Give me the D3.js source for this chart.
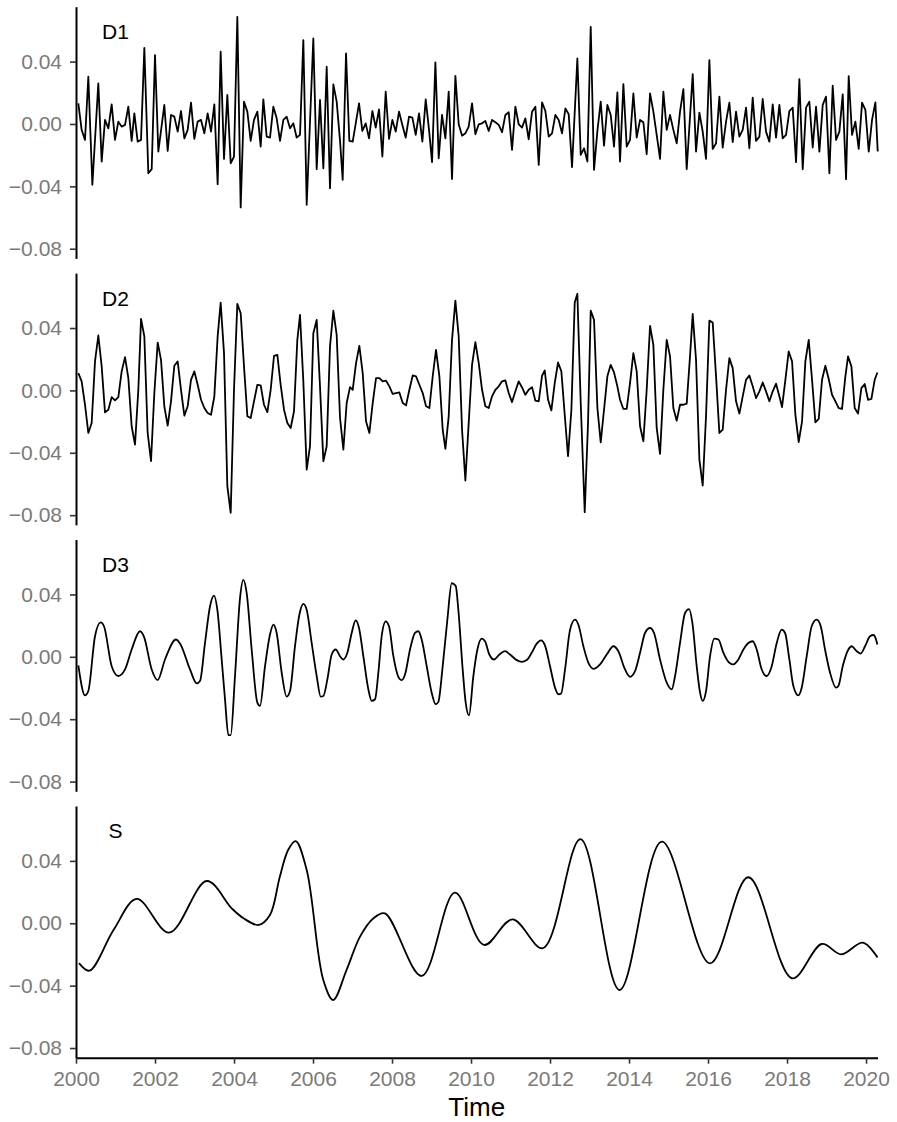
<!DOCTYPE html>
<html>
<head>
<meta charset="utf-8">
<script src="https://cdn.jsdelivr.net/npm/d3@7"></script>
<style>
  body { margin: 0; background: #ffffff; }
  svg { display: block; }
</style>
</head>
<body>
<svg id="chart" width="897" height="1122"></svg>
<script>
// ---------------- data (years since 2000, values) ----------------
const baseYear = 2000;
const panelNames = ["D1", "D2", "D3", "S"];
const xTickValues = [2000, 2002, 2004, 2006, 2008, 2010, 2012, 2014, 2016, 2018, 2020];
const yTickValues = [0.04, 0.00, -0.04, -0.08];
const yLimits = [-0.0862, 0.0752];
const xLimits = [2000, 2020.29];

const d1Years = [
0.059,0.143,0.228,0.312,0.414,0.565,0.650,0.734,0.819,0.903,0.987,1.072,1.156,1.241,1.325,1.409,1.477,1.561,1.646,1.730,1.831,1.916,2.000,2.084,2.236,2.321,2.405,2.489,2.574,2.658,2.743,2.827,2.911,2.996,3.080,3.165,3.249,3.333,3.418,3.502,3.586,3.662,3.747,3.831,3.916,4.000,4.084,4.169,4.253,4.338,4.422,4.506,4.591,4.675,4.743,4.827,4.911,4.996,5.080,5.165,5.249,5.333,5.418,5.502,5.586,5.671,5.755,5.840,6.008,6.093,6.177,6.262,6.346,6.430,6.515,6.599,6.684,6.751,
6.836,6.920,7.005,7.089,7.165,7.249,7.334,7.418,7.503,7.587,7.671,7.756,7.840,7.925,8.009,8.093,8.178,8.262,8.346,8.431,8.515,8.600,8.684,8.768,8.853,8.937,9.013,9.098,9.182,9.266,9.351,9.435,9.519,9.604,9.688,9.773,9.857,9.941,10.026,10.110,10.195,10.279,10.363,10.448,10.532,10.617,10.701,10.785,10.870,10.954,11.038,11.123,11.207,11.292,11.376,11.460,11.545,11.629,11.714,11.798,11.882,11.967,12.051,12.135,12.220,12.304,12.389,12.473,12.557,12.692,12.777,12.861,12.946,13.030,13.114,13.199,13.283,13.367,13.452,13.536,13.620,13.705,13.772,
13.857,13.941,14.025,14.110,14.194,14.279,14.363,14.447,14.532,14.616,14.700,14.785,14.869,14.954,15.038,15.122,15.207,15.291,15.376,15.460,15.612,15.696,15.781,15.865,15.949,16.034,16.118,16.203,16.287,16.371,16.456,16.540,16.624,16.709,16.793,16.878,16.962,17.046,17.131,17.215,17.300,17.384,17.468,17.553,17.637,17.722,17.806,17.890,17.975,18.059,18.143,18.228,18.312,18.397,18.481,18.565,18.650,18.734,18.819,18.903,18.987,19.072,19.156,19.241,19.325,19.409,19.494,19.561,19.646,19.730,19.814,19.899,19.983,20.068,20.152,20.236,20.295
];
const d1Values = [
0.0132,-0.0038,-0.0102,0.0303,-0.0390,0.0260,-0.0241,0.0026,-0.0028,0.0126,-0.0102,0.0015,-0.0017,-0.0006,0.0111,-0.0109,0.0068,-0.0113,-0.0102,0.0488,-0.0316,-0.0290,0.0442,-0.0177,0.0122,-0.0173,0.0058,0.0047,-0.0049,0.0083,-0.0092,-0.0038,0.0137,-0.0096,0.0015,0.0026,-0.0060,0.0068,-0.0049,0.0126,-0.0386,0.0463,-0.0224,0.0186,-0.0252,-0.0209,0.0687,-0.0535,0.0143,0.0079,-0.0109,0.0026,0.0079,-0.0145,0.0158,-0.0081,-0.0087,0.0111,0.0036,-0.0109,0.0026,0.0047,-0.0028,0.0004,-0.0087,-0.0070,0.0538,-0.0518,0.0548,-0.0290,0.0154,-0.0284,0.0367,-0.0412,0.0254,0.0143,-0.0109,-0.0358,
0.0452,-0.0109,-0.0113,0.0015,0.0132,-0.0045,0.0004,-0.0092,0.0083,-0.0023,0.0094,-0.0209,0.0207,-0.0096,0.0026,-0.0049,0.0079,-0.0006,-0.0087,0.0047,0.0041,-0.0070,0.0068,-0.0113,0.0158,-0.0038,-0.0245,0.0395,-0.0220,0.0058,-0.0092,0.0207,-0.0352,0.0309,-0.0002,-0.0075,-0.0060,-0.0017,0.0132,-0.0066,-0.0002,0.0004,0.0019,-0.0045,0.0026,0.0011,-0.0006,-0.0053,0.0058,0.0075,-0.0166,0.0111,-0.0002,-0.0023,0.0036,-0.0098,0.0079,0.0111,-0.0262,0.0139,0.0083,-0.0081,-0.0060,0.0058,0.0026,-0.0060,0.0100,0.0062,-0.0277,0.0420,-0.0198,-0.0156,-0.0241,0.0623,-0.0294,-0.0045,0.0143,-0.0139,0.0122,0.0058,-0.0145,0.0203,-0.0241,
0.0256,-0.0145,-0.0102,0.0196,-0.0087,0.0026,0.0011,-0.0194,0.0196,0.0079,-0.0070,-0.0224,0.0207,-0.0038,0.0058,-0.0038,-0.0124,0.0079,0.0224,-0.0290,0.0320,-0.0177,0.0073,-0.0049,-0.0224,0.0410,-0.0160,-0.0124,0.0175,-0.0151,0.0015,0.0137,-0.0117,0.0079,-0.0081,-0.0038,0.0105,-0.0156,0.0169,-0.0109,-0.0081,0.0160,-0.0049,-0.0113,0.0126,-0.0087,0.0122,-0.0092,-0.0070,0.0083,0.0105,-0.0245,0.0288,-0.0290,0.0105,0.0143,-0.0151,0.0111,-0.0177,0.0122,0.0175,-0.0316,0.0245,-0.0102,-0.0049,0.0190,-0.0354,0.0307,-0.0070,0.0015,-0.0160,0.0137,0.0090,-0.0177,0.0026,0.0139,-0.0177
];

const d2Years = [
0.059,0.143,0.228,0.312,0.397,0.481,0.565,0.650,0.734,0.819,0.903,0.987,1.072,1.156,1.241,1.325,1.409,1.494,1.578,1.646,1.730,1.814,1.899,1.983,2.068,2.152,2.236,2.321,2.405,2.489,2.574,2.658,2.743,2.827,2.911,2.996,3.080,3.165,3.249,3.333,3.418,3.502,3.586,3.662,3.747,3.831,3.916,4.000,4.084,4.169,4.253,4.338,4.422,4.506,4.591,4.675,4.759,4.844,4.928,5.013,5.097,5.181,5.266,5.350,5.435,5.519,5.603,5.671,5.755,5.840,5.924,6.008,6.093,6.177,6.262,6.346,6.430,6.515,6.599,6.684,6.768,6.852,6.937,
7.005,7.089,7.173,7.258,7.342,7.427,7.511,7.595,7.680,7.764,7.849,7.933,8.017,8.102,8.186,8.271,8.355,8.439,8.524,8.608,8.692,8.777,8.861,8.946,9.030,9.114,9.199,9.283,9.351,9.435,9.519,9.604,9.688,9.773,9.857,9.941,10.026,10.110,10.195,10.279,10.363,10.448,10.532,10.617,10.701,10.785,10.870,10.954,11.038,11.123,11.207,11.292,11.376,11.460,11.545,11.629,11.714,11.798,11.866,11.950,12.034,12.119,12.203,12.287,12.372,12.456,12.541,12.625,12.692,12.777,12.878,12.962,13.030,13.114,13.199,13.283,13.367,13.452,13.536,13.620,13.705,13.772,
13.857,13.941,14.025,14.110,14.194,14.279,14.363,14.447,14.532,14.616,14.700,14.785,14.869,14.954,15.038,15.122,15.207,15.291,15.376,15.460,15.544,15.612,15.696,15.781,15.865,15.949,16.034,16.118,16.203,16.287,16.371,16.456,16.540,16.624,16.709,16.793,16.878,16.962,17.046,17.131,17.215,17.300,17.384,17.468,17.553,17.637,17.722,17.806,17.873,17.958,18.042,18.127,18.211,18.295,18.380,18.464,18.549,18.633,18.717,18.802,18.886,18.970,19.055,19.139,19.224,19.308,19.392,19.477,19.544,19.629,19.713,19.797,19.882,19.966,20.051,20.135,20.219,20.287
];
const d2Values = [
0.0111,0.0058,-0.0092,-0.0273,-0.0209,0.0186,0.0352,0.0154,-0.0141,-0.0124,-0.0043,-0.0064,-0.0043,0.0122,0.0213,0.0079,-0.0230,-0.0348,0.0004,0.0459,0.0346,-0.0273,-0.0454,-0.0017,0.0307,0.0196,-0.0102,-0.0226,-0.0070,0.0158,0.0186,0.0004,-0.0162,-0.0102,0.0068,0.0122,0.0036,-0.0060,-0.0113,-0.0145,-0.0156,-0.0038,0.0346,0.0563,0.0239,-0.0614,-0.0785,0.0004,0.0555,0.0495,0.0154,-0.0166,-0.0177,-0.0070,0.0036,0.0032,-0.0092,-0.0139,0.0004,0.0222,0.0228,0.0036,-0.0124,-0.0209,-0.0241,-0.0134,0.0324,0.0484,0.0058,-0.0508,-0.0358,0.0367,0.0452,0.0026,-0.0454,-0.0358,0.0282,0.0512,0.0356,-0.0177,-0.0380,-0.0081,0.0021,
0.0004,0.0175,0.0286,0.0111,-0.0198,-0.0273,-0.0081,0.0079,0.0079,0.0058,0.0062,0.0026,-0.0023,-0.0017,-0.0013,-0.0081,-0.0096,0.0004,0.0096,0.0090,0.0036,-0.0017,-0.0102,-0.0113,0.0090,0.0260,0.0090,-0.0252,-0.0375,-0.0166,0.0324,0.0576,0.0346,-0.0252,-0.0578,-0.0209,0.0164,0.0309,0.0175,0.0004,-0.0102,-0.0113,-0.0038,0.0004,0.0026,0.0058,0.0064,-0.0017,-0.0075,-0.0006,0.0058,0.0019,-0.0028,0.0004,0.0021,-0.0066,-0.0070,0.0094,0.0128,-0.0060,-0.0128,0.0047,0.0179,0.0122,-0.0156,-0.0422,-0.0124,0.0563,0.0619,-0.0081,-0.0781,-0.0209,0.0512,0.0452,-0.0113,-0.0333,-0.0124,0.0090,0.0164,0.0115,0.0026,-0.0060,
-0.0119,-0.0119,0.0047,0.0239,0.0122,-0.0230,-0.0326,0.0004,0.0414,0.0292,-0.0241,-0.0407,0.0004,0.0324,0.0218,-0.0113,-0.0194,-0.0092,-0.0092,-0.0085,0.0218,0.0491,0.0196,-0.0444,-0.0610,-0.0166,0.0448,0.0435,0.0090,-0.0273,-0.0252,0.0004,0.0207,0.0143,-0.0070,-0.0149,-0.0038,0.0068,0.0096,0.0026,-0.0049,-0.0006,0.0051,-0.0006,-0.0070,-0.0006,0.0043,-0.0038,-0.0107,0.0068,0.0250,0.0186,-0.0156,-0.0331,-0.0198,0.0186,0.0324,0.0068,-0.0205,-0.0183,0.0068,0.0158,0.0073,-0.0028,-0.0070,-0.0113,-0.0119,0.0090,0.0218,0.0154,-0.0113,-0.0149,0.0015,0.0041,-0.0060,-0.0055,0.0068,0.0115
];

const d3Years = [
0.059,0.228,0.312,0.481,0.624,0.709,0.903,1.072,1.241,1.409,1.620,1.722,1.916,2.068,2.253,2.532,2.633,2.886,3.055,3.139,3.266,3.392,3.494,3.578,3.688,3.772,3.857,3.916,4.025,4.152,4.236,4.321,4.447,4.591,4.658,4.785,4.911,4.996,5.080,5.207,5.333,5.418,5.544,5.654,5.755,5.840,5.966,6.093,6.194,6.262,6.363,6.473,6.574,6.684,6.768,6.869,6.979,7.080,7.165,7.274,7.401,7.485,7.570,7.654,7.738,7.840,7.924,8.034,8.160,8.245,8.329,8.456,8.582,8.667,8.751,8.878,9.004,9.106,9.173,9.283,9.401,9.511,9.612,9.679,9.789,9.865,9.949,
10.059,10.161,10.270,10.355,10.464,10.583,10.718,10.861,10.988,11.157,11.283,11.409,11.536,11.663,11.772,11.874,12.000,12.127,12.211,12.279,12.380,12.507,12.633,12.718,12.844,12.971,13.114,13.266,13.435,13.604,13.730,13.899,14.026,14.152,14.279,14.405,14.532,14.633,14.785,14.954,15.080,15.165,15.291,15.418,15.519,15.604,15.713,15.798,15.865,15.950,16.051,16.161,16.262,16.389,16.540,16.642,16.768,16.895,17.021,17.131,17.232,17.359,17.486,17.612,17.739,17.865,17.950,18.059,18.160,18.287,18.371,18.498,18.624,18.751,18.853,18.962,19.089,19.241,19.300,19.410,19.553,19.637,19.764,19.865,19.975,20.101,20.186,20.228,20.287
];
const d3Values = [
-0.0055,-0.0247,-0.0219,0.0132,0.0221,0.0196,-0.0060,-0.0123,-0.0081,0.0047,0.0164,0.0128,-0.0081,-0.0149,-0.0017,0.0111,0.0085,-0.0081,-0.0170,-0.0155,0.0089,0.0323,0.0392,0.0302,-0.0017,-0.0272,-0.0502,-0.0502,-0.0123,0.0377,0.0494,0.0409,0.0047,-0.0294,-0.0315,-0.0060,0.0143,0.0206,0.0153,-0.0102,-0.0255,-0.0219,0.0068,0.0270,0.0340,0.0302,0.0089,-0.0123,-0.0255,-0.0251,-0.0145,0.0015,0.0047,0.0004,-0.0017,0.0026,0.0153,0.0234,0.0185,0.0004,-0.0209,-0.0283,-0.0272,-0.0102,0.0132,0.0228,0.0196,0.0004,-0.0128,-0.0149,-0.0113,0.0047,0.0153,0.0164,0.0111,-0.0060,-0.0230,-0.0304,-0.0289,-0.0060,0.0238,0.0472,0.0455,0.0302,-0.0081,-0.0294,-0.0375,
-0.0123,0.0047,0.0117,0.0100,0.0015,-0.0017,0.0015,0.0036,0.0015,-0.0021,-0.0032,-0.0021,0.0026,0.0085,0.0106,0.0072,-0.0060,-0.0198,-0.0240,-0.0236,-0.0081,0.0174,0.0238,0.0206,0.0068,-0.0038,-0.0077,-0.0049,0.0015,0.0068,0.0036,-0.0081,-0.0128,-0.0092,0.0026,0.0153,0.0185,0.0153,-0.0017,-0.0166,-0.0209,-0.0123,0.0089,0.0281,0.0306,0.0217,-0.0060,-0.0230,-0.0283,-0.0219,0.0004,0.0117,0.0111,0.0026,-0.0038,-0.0049,-0.0017,0.0047,0.0089,0.0100,0.0047,-0.0081,-0.0123,-0.0060,0.0089,0.0174,0.0153,-0.0017,-0.0187,-0.0247,-0.0198,0.0004,0.0196,0.0238,0.0196,0.0047,-0.0102,-0.0198,-0.0187,-0.0060,0.0047,0.0068,0.0036,0.0021,0.0068,0.0132,0.0140,0.0128,0.0079
];

const sYears = [0.076,0.34,0.95,1.54,2.36,3.31,3.94,4.24,4.62,4.91,5.16,5.37,5.56,5.84,6.26,6.51,6.85,7.19,7.53,7.82,8.75,9.59,10.33,11.05,11.82,12.77,13.76,14.83,16.05,17.02,18.13,18.88,19.37,19.92,20.29];
const sValues = [-0.0256,-0.0304,-0.0043,0.0156,-0.0060,0.0271,0.0096,0.0032,-0.0011,0.0053,0.0299,0.0470,0.0527,0.0342,-0.0364,-0.0492,-0.0299,-0.0086,0.0032,0.0064,-0.0338,0.0196,-0.0139,0.0025,-0.0160,0.0540,-0.0428,0.0523,-0.0257,0.0295,-0.0353,-0.0133,-0.0199,-0.0124,-0.0220];

// ---------------- layout ----------------
const svg = d3.select("#chart");
const plotLeft = 76, plotRight = 877.5;
const firstTop = 6.7, panelH = 251.7, panelStep = 266.43;
const fontFamily = "'Liberation Sans', Arial, Helvetica, sans-serif";

const x = d3.scaleLinear().domain(xLimits).range([plotLeft, plotRight]);

const panels = [
  { name: panelNames[0], years: d1Years, values: d1Values, curve: d3.curveLinear },
  { name: panelNames[1], years: d2Years, values: d2Values, curve: d3.curveLinear },
  { name: panelNames[2], years: d3Years, values: d3Values, curve: d3.curveMonotoneX },
  { name: panelNames[3], years: sYears,  values: sValues,  curve: d3.curveCatmullRom.alpha(0.5) }
];

panels.forEach((p, i) => {
  const top = firstTop + i * panelStep;
  const y = d3.scaleLinear().domain(yLimits).range([top + panelH, top]);
  const g = svg.append("g");

  const n = Math.min(p.years.length, p.values.length);
  const pts = d3.range(n).map(k => [baseYear + p.years[k], p.values[k]]);

  g.append("path")
    .datum(pts)
    .attr("fill", "none")
    .attr("stroke", "#000")
    .attr("stroke-width", 1.8)
    .attr("stroke-linejoin", "round")
    .attr("d", d3.line().x(d => x(d[0])).y(d => y(d[1])).curve(p.curve));

  // y axis
  const ay = g.append("g")
    .attr("transform", `translate(${plotLeft},0)`)
    .call(d3.axisLeft(y).tickValues(yTickValues).tickFormat(d3.format(".2f"))
      .tickSize(6).tickSizeOuter(0).tickPadding(8));
  ay.select(".domain").attr("stroke", "#000").attr("stroke-width", 2);
  ay.selectAll(".tick line").attr("stroke", "#333").attr("stroke-width", 1.6);
  ay.selectAll(".tick text").attr("fill", "#7a7a7a")
    .style("font-family", fontFamily).style("font-size", "21px");

  // panel label
  g.append("text")
    .attr("x", x(2001))
    .attr("y", top + 32.5)
    .attr("text-anchor", "middle")
    .style("font-family", fontFamily)
    .style("font-size", "21px")
    .attr("fill", "#000")
    .text(p.name);

  if (i === panels.length - 1) {
    const ax = g.append("g")
      .attr("transform", `translate(0,${top + panelH})`)
      .call(d3.axisBottom(x).tickValues(xTickValues).tickFormat(d3.format("d"))
        .tickSize(6).tickSizeOuter(0).tickPadding(7));
    ax.select(".domain").attr("stroke", "#000").attr("stroke-width", 2);
    ax.selectAll(".tick line").attr("stroke", "#333").attr("stroke-width", 1.6);
    ax.selectAll(".tick text").attr("fill", "#7a7a7a")
      .style("font-family", fontFamily).style("font-size", "21px");

    svg.append("text")
      .attr("x", (plotLeft + plotRight) / 2)
      .attr("y", 1116)
      .attr("text-anchor", "middle")
      .style("font-family", fontFamily)
      .style("font-size", "26px")
      .attr("fill", "#000")
      .text("Time");
  }
});
</script>
</body>
</html>
